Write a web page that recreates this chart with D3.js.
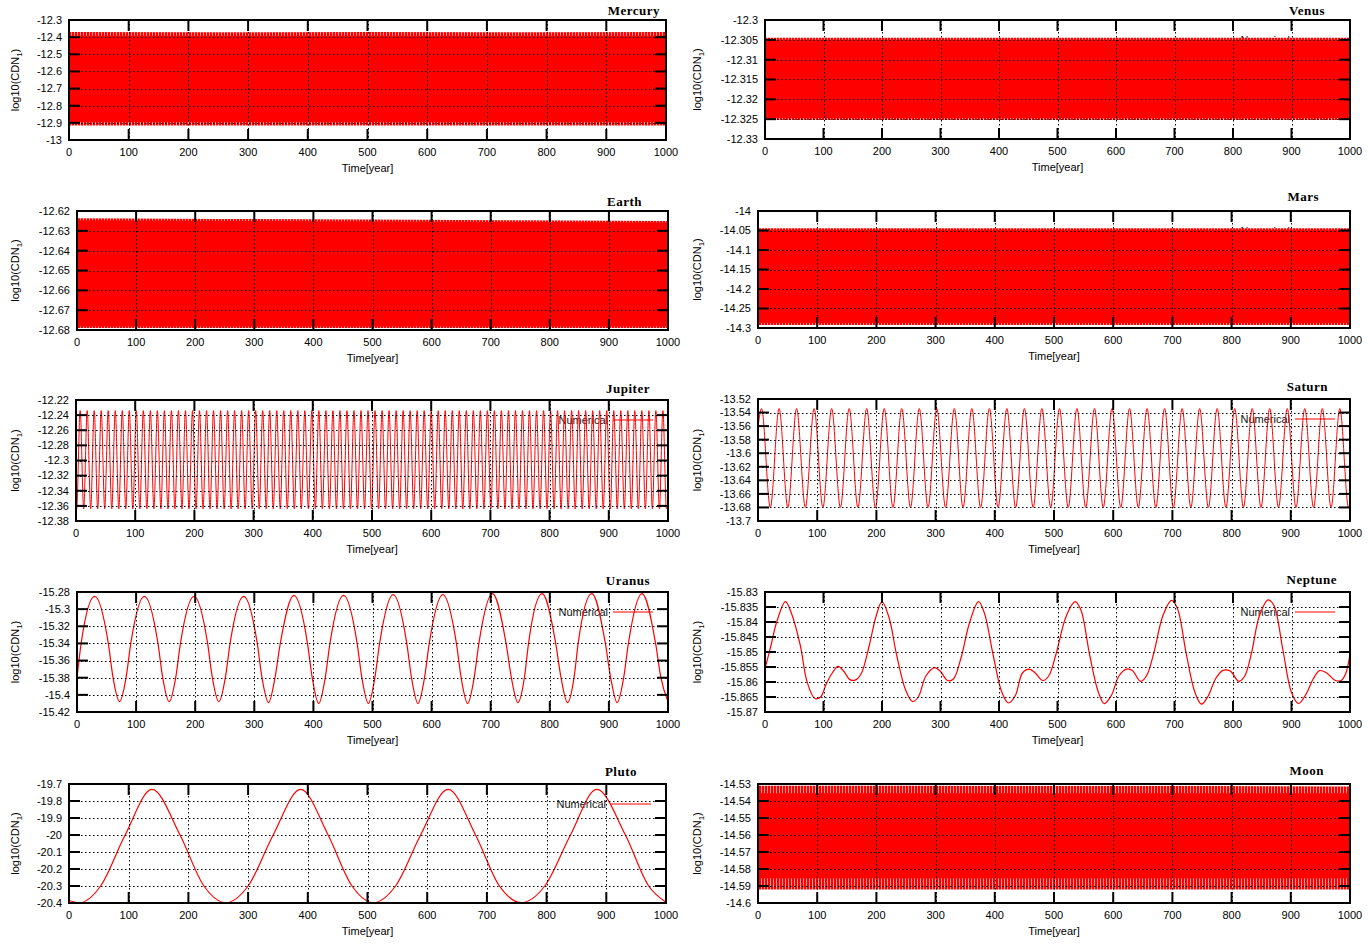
<!DOCTYPE html>
<html><head><meta charset="utf-8">
<script src="https://cdn.jsdelivr.net/npm/d3@7"></script>
<style>body{margin:0;background:#fff}svg{display:block}</style>
</head><body>
<svg id="chart" width="1368" height="944"></svg>
<script>
// ---------------- DATA ----------------
const xTickValues = [0,100,200,300,400,500,600,700,800,900,1000];
const xTickLabels = ["0","100","200","300","400","500","600","700","800","900","1000"];
const xAxisTitle = "Time[year]";
const legendLabel = "Numerical";

const mercuryTicks = [-12.3,-12.4,-12.5,-12.6,-12.7,-12.8,-12.9,-13];
const mercuryTickLabels = ["-12.3","-12.4","-12.5","-12.6","-12.7","-12.8","-12.9","-13"];
const venusTicks = [-12.3,-12.305,-12.31,-12.315,-12.32,-12.325,-12.33];
const venusTickLabels = ["-12.3","-12.305","-12.31","-12.315","-12.32","-12.325","-12.33"];
const earthTicks = [-12.62,-12.63,-12.64,-12.65,-12.66,-12.67,-12.68];
const earthTickLabels = ["-12.62","-12.63","-12.64","-12.65","-12.66","-12.67","-12.68"];
const marsTicks = [-14,-14.05,-14.1,-14.15,-14.2,-14.25,-14.3];
const marsTickLabels = ["-14","-14.05","-14.1","-14.15","-14.2","-14.25","-14.3"];
const jupiterTicks = [-12.22,-12.24,-12.26,-12.28,-12.3,-12.32,-12.34,-12.36,-12.38];
const jupiterTickLabels = ["-12.22","-12.24","-12.26","-12.28","-12.3","-12.32","-12.34","-12.36","-12.38"];
const saturnTicks = [-13.52,-13.54,-13.56,-13.58,-13.6,-13.62,-13.64,-13.66,-13.68,-13.7];
const saturnTickLabels = ["-13.52","-13.54","-13.56","-13.58","-13.6","-13.62","-13.64","-13.66","-13.68","-13.7"];
const uranusTicks = [-15.28,-15.3,-15.32,-15.34,-15.36,-15.38,-15.4,-15.42];
const uranusTickLabels = ["-15.28","-15.3","-15.32","-15.34","-15.36","-15.38","-15.4","-15.42"];
const neptuneTicks = [-15.83,-15.835,-15.84,-15.845,-15.85,-15.855,-15.86,-15.865,-15.87];
const neptuneTickLabels = ["-15.83","-15.835","-15.84","-15.845","-15.85","-15.855","-15.86","-15.865","-15.87"];
const plutoTicks = [-19.7,-19.8,-19.9,-20,-20.1,-20.2,-20.3,-20.4];
const plutoTickLabels = ["-19.7","-19.8","-19.9","-20","-20.1","-20.2","-20.3","-20.4"];
const moonTicks = [-14.53,-14.54,-14.55,-14.56,-14.57,-14.58,-14.59,-14.6];
const moonTickLabels = ["-14.53","-14.54","-14.55","-14.56","-14.57","-14.58","-14.59","-14.6"];

// Dense oscillation bands (envelopes)
const bandYears = [0,250,500,750,1000];
const mercuryTopOuter = [-12.370,-12.371,-12.370,-12.371,-12.370];
const mercuryTopInner = [-12.392,-12.392,-12.392,-12.392,-12.392];
const mercuryBottomInner = [-12.895,-12.895,-12.895,-12.895,-12.895];
const mercuryBottomOuter = [-12.915,-12.915,-12.915,-12.915,-12.915];
const venusTopOuter = [-12.3045,-12.3045,-12.3045,-12.3045,-12.3045];
const venusTopInner = [-12.3050,-12.3050,-12.3050,-12.3050,-12.3050];
const venusBottomInner = [-12.3247,-12.3247,-12.3247,-12.3247,-12.3247];
const venusBottomOuter = [-12.3252,-12.3252,-12.3252,-12.3252,-12.3252];
const earthTopOuter = [-12.6237,-12.6240,-12.6243,-12.6247,-12.6250];
const earthTopInner = [-12.6247,-12.6250,-12.6253,-12.6256,-12.6258];
const earthBottomInner = [-12.6782,-12.6782,-12.6782,-12.6782,-12.6782];
const earthBottomOuter = [-12.6790,-12.6790,-12.6790,-12.6790,-12.6790];
const marsTopOuter = [-14.044,-14.044,-14.044,-14.044,-14.044];
const marsTopInner = [-14.048,-14.048,-14.048,-14.048,-14.048];
const marsBottomInner = [-14.287,-14.287,-14.287,-14.287,-14.287];
const marsBottomOuter = [-14.292,-14.292,-14.292,-14.292,-14.292];
const moonTopOuter = [-14.5310,-14.5310,-14.5312,-14.5312,-14.5314];
const moonTopInner = [-14.5355,-14.5355,-14.5355,-14.5355,-14.5355];
const moonBottomInner = [-14.5855,-14.5855,-14.5855,-14.5855,-14.5855];
const moonBottomOuter = [-14.5920,-14.5920,-14.5920,-14.5920,-14.5920];

// Jupiter: peak and trough years
const jupiterPeakYears = [7,18.9,30.7,42.6,54.4,66.3,78.2,90,101.9,113.7,125.6,137.5,149.3,161.2,173,184.9,196.8,208.6,220.5,232.3,244.2,256.1,267.9,279.8,291.6,303.5,315.4,327.2,339.1,350.9,362.8,374.7,386.5,398.4,410.2,422.1,434,445.8,457.7,469.5,481.4,493.3,505.1,517,528.8,540.7,552.6,564.4,576.3,588.1,600,611.9,623.7,635.6,647.4,659.3,671.2,683,694.9,706.7,718.6,730.5,742.3,754.2,766,777.9,789.8,801.6,813.5,825.3,837.2,849.1,860.9,872.8,884.6,896.5,908.4,920.2,932.1,943.9,955.8,967.7,979.5,991.4];
const jupiterTroughYears = [1.1,13,24.8,36.7,48.5,60.4,72.3,84.1,96,107.8,119.7,131.6,143.4,155.3,167.1,179,190.9,202.7,214.6,226.4,238.3,250.2,262,273.9,285.7,297.6,309.5,321.3,333.2,345,356.9,368.8,380.6,392.5,404.3,416.2,428.1,439.9,451.8,463.6,475.5,487.4,499.2,511.1,522.9,534.8,546.7,558.5,570.4,582.2,594.1,606,617.8,629.7,641.5,653.4,665.3,677.1,689,700.8,712.7,724.6,736.4,748.3,760.1,772,783.9,795.7,807.6,819.4,831.3,843.2,855,866.9,878.7,890.6,902.5,914.3,926.2,938,949.9,961.8,973.6,985.5,997.4];
const jupiterPeakValue = -12.234;
const jupiterTroughValue = -12.364;
const jupiterEnds = [[0,-12.362],[1000,-12.358]];

// Saturn: peak and trough years
const saturnPeakYears = [6,35.6,65.2,94.8,124.4,154,183.6,213.2,242.8,272.4,302,331.6,361.2,390.8,420.4,450,479.6,509.2,538.8,568.4,598,627.6,657.2,686.8,716.4,746,775.6,805.2,834.8,864.4,894,923.6,953.2,982.8];
const saturnTroughYears = [20.8,50.4,80,109.6,139.2,168.8,198.4,228,257.6,287.2,316.8,346.4,376,405.6,435.2,464.8,494.4,524,553.6,583.2,612.8,642.4,672,701.6,731.2,760.8,790.4,820,849.6,879.2,908.8,938.4,968,997.6];
const saturnPeakValue = -13.534;
const saturnTroughValue = -13.680;
const saturnEnds = [[0,-13.562],[1000,-13.678]];

// Uranus: [year, value]
const uranusPoints = [[0,-15.38],[7,-15.34],[30,-15.285],[53,-15.34],[61,-15.38],[72,-15.408],
[83,-15.38],[91,-15.34],[114,-15.285],[137,-15.34],[145,-15.38],[156,-15.408],
[167,-15.38],[175,-15.34],[198,-15.285],[221,-15.34],[229,-15.38],[240,-15.408],
[251,-15.38],[259,-15.34],[282,-15.285],[305,-15.34],[313,-15.38],[324,-15.409],
[335,-15.38],[344,-15.34],[367,-15.284],[390,-15.34],[398,-15.38],[409,-15.41],
[420,-15.38],[428,-15.34],[451,-15.284],[474,-15.34],[482,-15.38],[493,-15.41],
[504,-15.38],[512,-15.34],[535,-15.283],[558,-15.34],[566,-15.38],[577,-15.41],
[588,-15.38],[596,-15.34],[619,-15.283],[642,-15.34],[650,-15.38],[661,-15.41],
[672,-15.38],[680,-15.34],[703,-15.282],[726,-15.34],[735,-15.38],[746,-15.409],
[757,-15.38],[764,-15.34],[787,-15.282],[810,-15.34],[819,-15.38],[830,-15.409],
[841,-15.38],[848,-15.34],[871,-15.282],[894,-15.34],[903,-15.38],[914,-15.409],
[925,-15.38],[933,-15.34],[956,-15.282],[979,-15.34],[988,-15.38],[1000,-15.408]];

// Neptune: [year, value]
const neptunePoints = [[0,-15.8555],[10,-15.848],[20,-15.840],[35,-15.8332],[45,-15.837],[60,-15.8475],[72,-15.860],[85,-15.8655],[95,-15.865],[105,-15.8605],[115,-15.857],[125,-15.8548],[135,-15.8565],[145,-15.8592],[155,-15.8593],[165,-15.857],[178,-15.848],[190,-15.838],[200,-15.8332],[212,-15.8385],[225,-15.851],[240,-15.8625],[252,-15.8665],[262,-15.865],[275,-15.858],[290,-15.8552],[300,-15.8565],[312,-15.8595],[322,-15.859],[335,-15.852],[350,-15.840],[365,-15.8332],[375,-15.837],[390,-15.851],[405,-15.8635],[416,-15.867],[428,-15.8645],[440,-15.857],[452,-15.8557],[462,-15.857],[475,-15.8595],[485,-15.858],[497,-15.851],[515,-15.838],[530,-15.8332],[540,-15.836],[555,-15.851],[570,-15.8635],[580,-15.8672],[592,-15.8645],[605,-15.858],[618,-15.8557],[628,-15.8562],[642,-15.8598],[652,-15.858],[665,-15.850],[680,-15.838],[695,-15.8328],[705,-15.8355],[720,-15.8505],[735,-15.8635],[746,-15.8674],[758,-15.8645],[770,-15.859],[782,-15.8562],[795,-15.8563],[810,-15.8598],[820,-15.858],[832,-15.850],[845,-15.838],[860,-15.8326],[870,-15.8345],[885,-15.849],[900,-15.8635],[912,-15.8672],[925,-15.864],[937,-15.859],[948,-15.8562],[960,-15.857],[975,-15.8595],[985,-15.8595],[993,-15.857],[1000,-15.8505]];

// Pluto: [year, value]
const plutoPoints = [[0,-20.385],[18,-20.398],[53,-20.3],[94,-20.0],[139,-19.732],[186,-20.0],[226,-20.3],[263,-20.398],[300,-20.3],[342,-20.0],[388,-19.732],[434,-20.0],[474,-20.3],[510,-20.398],[547,-20.3],[589,-20.0],[635,-19.732],[681,-20.0],[721,-20.3],[757,-20.398],[797,-20.3],[840,-20.0],[884,-19.732],[932,-20.0],[971,-20.3],[1000,-20.395]];

// ---------------- LAYOUT ----------------
const panels = [
 {name:"Mercury", x0:69, x1:666, y0:20, y1:140, titleX:660, titleY:15, ylabX:15, ticks:mercuryTicks, labels:mercuryTickLabels, kind:"band", band:[mercuryTopOuter,mercuryTopInner,mercuryBottomInner,mercuryBottomOuter]},
 {name:"Venus", x0:765, x1:1350, y0:20, y1:139, titleX:1325, titleY:15, ylabX:697, ticks:venusTicks, labels:venusTickLabels, kind:"band", band:[venusTopOuter,venusTopInner,venusBottomInner,venusBottomOuter]},
 {name:"Earth", x0:77, x1:668, y0:211, y1:330, titleX:642, titleY:206, ylabX:15, ticks:earthTicks, labels:earthTickLabels, kind:"band", band:[earthTopOuter,earthTopInner,earthBottomInner,earthBottomOuter]},
 {name:"Mars", x0:758, x1:1350, y0:211, y1:328, titleX:1319, titleY:201, ylabX:697, ticks:marsTicks, labels:marsTickLabels, kind:"band", band:[marsTopOuter,marsTopInner,marsBottomInner,marsBottomOuter]},
 {name:"Jupiter", x0:76, x1:668, y0:400, y1:521, titleX:650, titleY:393, ylabX:15, ticks:jupiterTicks, labels:jupiterTickLabels, kind:"osc", peaks:jupiterPeakYears, troughs:jupiterTroughYears, pv:jupiterPeakValue, tv:jupiterTroughValue, ends:jupiterEnds},
 {name:"Saturn", x0:758, x1:1350, y0:399, y1:521, titleX:1328, titleY:391, ylabX:697, ticks:saturnTicks, labels:saturnTickLabels, kind:"osc", peaks:saturnPeakYears, troughs:saturnTroughYears, pv:saturnPeakValue, tv:saturnTroughValue, ends:saturnEnds},
 {name:"Uranus", x0:77, x1:668, y0:592, y1:712, titleX:650, titleY:585, ylabX:15, ticks:uranusTicks, labels:uranusTickLabels, kind:"line", points:uranusPoints},
 {name:"Neptune", x0:765, x1:1350, y0:592, y1:712, titleX:1337, titleY:584, ylabX:697, ticks:neptuneTicks, labels:neptuneTickLabels, kind:"line", points:neptunePoints, curve:"linear"},
 {name:"Pluto", x0:69, x1:666, y0:784, y1:903, titleX:637, titleY:776, ylabX:15, ticks:plutoTicks, labels:plutoTickLabels, kind:"line", points:plutoPoints},
 {name:"Moon", x0:758, x1:1350, y0:784, y1:903, titleX:1324, titleY:775, ylabX:697, ticks:moonTicks, labels:moonTickLabels, kind:"band", band:[moonTopOuter,moonTopInner,moonBottomInner,moonBottomOuter]}
];

const RED = "#ff0000";
const SANS = "'Liberation Sans', Arial, sans-serif";
const SERIF = "'Liberation Serif', 'Times New Roman', serif";
const TICK = 11;

const svg = d3.select("#chart");
svg.append("rect").attr("width",1368).attr("height",944).attr("fill","#fff");

// striped pattern for the jagged edges of dense oscillation bands
const defs = svg.append("defs");
const pat = defs.append("pattern").attr("id","fringe").attr("patternUnits","userSpaceOnUse")
  .attr("width",3).attr("height",8);
pat.append("rect").attr("width",3).attr("height",8).attr("fill","#ff9a9a");
pat.append("rect").attr("width",2).attr("height",8).attr("fill",RED);

panels.forEach(p => {
  const g = svg.append("g");
  const x = d3.scaleLinear().domain([0,1000]).range([p.x0,p.x1]);
  const y = d3.scaleLinear().domain([p.ticks[p.ticks.length-1], p.ticks[0]]).range([p.y1,p.y0]);

  // legend (drawn underneath the data)
  const ly = p.y0 + 20;
  g.append("text").attr("x", p.x1-60).attr("y", ly).attr("dy","0.35em")
    .attr("text-anchor","end").attr("font-family",SANS).attr("font-size",11).attr("fill","#111")
    .text(legendLabel);
  g.append("line").attr("x1",p.x1-55).attr("x2",p.x1-15).attr("y1",ly).attr("y2",ly)
    .attr("stroke",RED).attr("stroke-width",1.2);

  const clipId = "clip-"+p.name;
  defs.append("clipPath").attr("id",clipId).append("rect")
    .attr("x",p.x0).attr("y",p.y0).attr("width",p.x1-p.x0).attr("height",p.y1-p.y0);
  const dg = g.append("g").attr("clip-path",`url(#${clipId})`);

  if (p.kind === "band") {
    const [tO,tI,bI,bO] = p.band;
    const outer = bandYears.map((yr,i)=>({yr, a:tO[i], b:bO[i]}));
    const inner = bandYears.map((yr,i)=>({yr, a:tI[i], b:bI[i]}));
    const area = d3.area().x(d=>x(d.yr)).y0(d=>y(d.b)).y1(d=>y(d.a));
    dg.append("path").datum(outer).attr("d",area).attr("fill","url(#fringe)");
    dg.append("path").datum(inner).attr("d",area).attr("fill",RED);
  } else {
    let pts;
    if (p.kind === "osc") {
      pts = p.peaks.map(t=>[t,p.pv]).concat(p.troughs.map(t=>[t,p.tv])).concat(p.ends);
      pts.sort((a,b)=>a[0]-b[0]);
    } else pts = p.points;
    const line = d3.line().x(d=>x(d[0])).y(d=>y(d[1]))
      .curve(p.curve==="linear" ? d3.curveCatmullRom.alpha(0.5) : d3.curveMonotoneX);
    dg.append("path").datum(pts).attr("d",line).attr("fill","none")
      .attr("stroke",RED).attr("stroke-width",p.kind==="osc"?1:1.2);
  }

  // grid (dotted, above data)
  const gridG = g.append("g").attr("stroke","#000").attr("stroke-width",1).attr("stroke-dasharray","1.5,2.5");
  p.ticks.slice(1,-1).forEach(v=>{
    gridG.append("line").attr("x1",p.x0).attr("x2",p.x1).attr("y1",Math.round(y(v))+0.5).attr("y2",Math.round(y(v))+0.5);
  });
  xTickValues.slice(1,-1).forEach(v=>{
    gridG.append("line").attr("y1",p.y0).attr("y2",p.y1).attr("x1",Math.round(x(v))+0.5).attr("x2",Math.round(x(v))+0.5);
  });

  // tick marks on all 4 sides
  const tg = g.append("g").attr("stroke","#000").attr("stroke-width",2);
  p.ticks.forEach(v=>{
    const yy = y(v);
    tg.append("line").attr("x1",p.x0).attr("x2",p.x0+TICK).attr("y1",yy).attr("y2",yy);
    tg.append("line").attr("x1",p.x1-TICK).attr("x2",p.x1).attr("y1",yy).attr("y2",yy);
  });
  xTickValues.forEach(v=>{
    const xx = x(v);
    tg.append("line").attr("x1",xx).attr("x2",xx).attr("y1",p.y1-TICK).attr("y2",p.y1);
    tg.append("line").attr("x1",xx).attr("x2",xx).attr("y1",p.y0).attr("y2",p.y0+TICK);
  });

  // frame
  g.append("rect").attr("x",p.x0).attr("y",p.y0).attr("width",p.x1-p.x0).attr("height",p.y1-p.y0)
    .attr("fill","none").attr("stroke","#000").attr("stroke-width",2);

  // y tick labels
  p.ticks.forEach((v,i)=>{
    g.append("text").attr("x",p.x0-7).attr("y",y(v)).attr("dy","0.35em")
      .attr("text-anchor","end").attr("font-family",SANS).attr("font-size",11).attr("fill","#000")
      .text(p.labels[i]);
  });
  // x tick labels
  xTickValues.forEach((v,i)=>{
    g.append("text").attr("x",x(v)).attr("y",p.y1+12).attr("dy","0.35em")
      .attr("text-anchor","middle").attr("font-family",SANS).attr("font-size",11).attr("fill","#000")
      .text(xTickLabels[i]);
  });
  // x axis title
  g.append("text").attr("x",(p.x0+p.x1)/2).attr("y",p.y1+28).attr("dy","0.35em")
    .attr("text-anchor","middle").attr("font-family",SANS).attr("font-size",11).attr("fill","#000")
    .text(xAxisTitle);
  // y axis title
  const yt = g.append("text").attr("transform",`translate(${p.ylabX},${(p.y0+p.y1)/2}) rotate(-90)`)
    .attr("dy","0.35em").attr("text-anchor","middle").attr("font-family",SANS).attr("font-size",11).attr("fill","#000");
  yt.append("tspan").text("log10(CDN");
  yt.append("tspan").attr("font-size",8).attr("dy","3").text("1");
  yt.append("tspan").attr("dy","-3").text(")");
  // title
  g.append("text").attr("x",p.titleX).attr("y",p.titleY)
    .attr("text-anchor","end").attr("font-family",SERIF).attr("font-weight","bold").attr("font-size",13)
    .attr("letter-spacing","0.5").attr("fill","#000").text(p.name);
});
</script>
</body></html>
